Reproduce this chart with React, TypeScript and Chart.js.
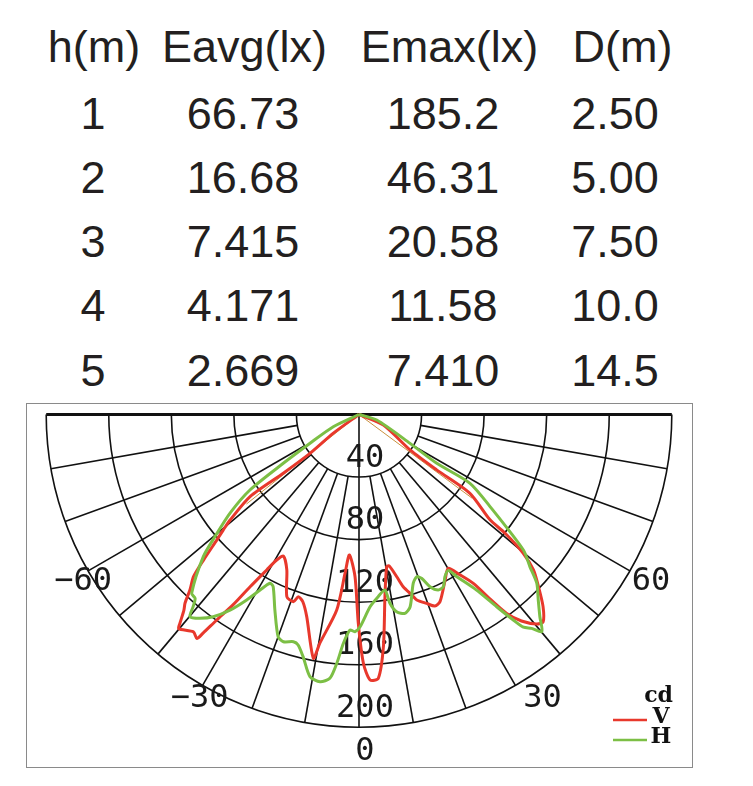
import React, { useEffect, useRef } from "react";
import { Chart, registerables } from "chart.js";

Chart.register(...registerables);

// ---------- table data ----------
const tableHeaders = ["h(m)", "Eavg(lx)", "Emax(lx)", "D(m)"];
const heightsM = ["1", "2", "3", "4", "5"];
const eavgLx = ["66.73", "16.68", "7.415", "4.171", "2.669"];
const emaxLx = ["185.2", "46.31", "20.58", "11.58", "7.410"];
const distM = ["2.50", "5.00", "7.50", "10.0", "14.5"];

// ---------- polar grid ----------
const ringValues = [40, 80, 120, 160, 200];
const spokeAngles = [-80, -70, -60, -50, -40, -30, -20, -10, 0, 10, 20, 30, 40, 50, 60, 70, 80];
const angleTickLabels = [-60, -30, 30, 60];

// ---------- V curve (red), angle in degrees from nadir, intensity in cd ----------
const vAngles = [
  -90, -54, -51.6, -52.2, -53, -50.7, -49.6, -48.6, -46.9, -45.6, -43.9, -42.7, -41.8, -40.6, -40.1,
  -37.3, -35.9, -35.5, -34.7, -33.5, -32.3, -30.7, -29.5, -28.1, -24.9, -21.6, -19.3, -18.4, -16.7,
  -14.5, -10.6, -9.7, -6.5, -5.0, -3.9, -1.4, -0.2, 1.0, 2.4, 4.2, 6.0, 8.1, 10.3, 11.3, 13.1, 14.4,
  16.3, 17.3, 19.7, 21.6, 23.4, 27.5, 30.1, 32.2, 34.1, 35.5, 36.6, 38.2, 40.3, 41.6, 43.8, 46.2,
  48.3, 49.8, 50.9, 51.2, 54.6, 54.5, 55.2, 66.6, 90,
];
const vCandela = [
  0, 20, 40, 61, 87, 106.5, 114, 121, 136, 148, 156, 164, 168, 176, 179,
  174.7, 176.8, 171.7, 159.8, 146, 130.3, 115.6, 106.9, 102.6, 109.6, 125.3, 126.8, 122.8, 125,
  133.5, 158.6, 148.2, 125.8, 101.7, 90, 103.8, 133.3, 158.9, 169.9, 169.1, 149.3, 117.7, 98.9, 98.8, 106.5, 113.7,
  120.2, 124.2, 128.3, 131.7, 130.4, 119.3, 113.7, 121.2, 130.4, 146, 158.4, 168, 175.6, 177.3, 170, 159,
  149.4, 137.5, 120.4, 107.5, 87, 61, 40, 17, 0,
];

// ---------- H curve (green) ----------
const hAngles = [
  -90, -64.6, -59.6, -57.2, -55.3, -52.6, -49.7, -47.6, -43.1, -41.7, -40.8, -39.9, -38, -35.8,
  -33.4, -31.2, -29.4, -27.8, -26.5, -23.3, -20, -18.4, -16.1, -14.8, -13, -10.6, -8.3, -6.3, -5.1,
  -3.9, -2.4, -1.1, 0.3, 3.3, 6, 8.4, 9.3, 10.8, 13, 14.9, 17.8, 19.6, 20.9, 22.4, 24.3, 26.1, 27.9,
  29.8, 31.1, 33.8, 35.6, 36.9, 37.7, 38.9, 40.1, 41.8, 44, 46.5, 48.3, 50.5, 54.9, 58.2, 57.9,
  60.5, 72.7, 90,
];
const hCandela = [
  0, 18.2, 36.3, 57.6, 84.8, 103.8, 120.8, 134.8, 156.6, 157.5, 162.3, 168.5, 165.3, 159.4,
  149.8, 138.6, 128.8, 122, 123, 136, 151.2, 153.1, 151.2, 152.4, 158.9, 170.5, 172.7, 169.7, 159.7,
  146.6, 137.9, 138.9, 135.7, 123.1, 117.1, 113.4, 122.3, 128.4, 130.5, 127.2, 113.4, 110.1, 112.1, 119.1, 123.1, 122.6, 117.4,
  115, 121.1, 135.1, 151.2, 164.3, 171.9, 175.7, 181.5, 173.5, 165, 156.7, 146.4, 136.2, 102.4, 83.5, 58.7,
  37.5, 11.9, 0,
];

// thin connecting rays
const rayLeftAngles = [-51.5, -51.5];
const rayLeftCandela = [0, 92];
const rayRightAngles = [53.5, 53.5];
const rayRightCandela = [0, 90];

const RED = "#e8382c";
const GREEN = "#7cbf45";
const RAY = "#c9913e";

const CANVAS_W = 662;
const CANVAS_H = 360;
const CENTER_X = 331;
const CENTER_Y = 9.5;
const PX_PER_CD = 1.564;

function toXY(angles: number[], values: number[]) {
  return angles.map((a, i) => {
    const t = (a * Math.PI) / 180;
    return { x: values[i] * Math.sin(t), y: -values[i] * Math.cos(t) };
  });
}

const polarGridPlugin = {
  id: "polarGrid",
  beforeDatasetsDraw(chart: any) {
    const { ctx } = chart;
    const xs = chart.scales.x;
    const ys = chart.scales.y;
    const cx = xs.getPixelForValue(0);
    const cy = ys.getPixelForValue(0);
    const rpx = (v: number) => xs.getPixelForValue(v) - cx;
    const maxR = rpx(ringValues[ringValues.length - 1]);
    const pt = (deg: number, r: number) => {
      const t = (deg * Math.PI) / 180;
      return [cx + r * Math.sin(t), cy + r * Math.cos(t)];
    };
    ctx.save();
    ctx.strokeStyle = "#111111";
    ctx.lineWidth = 1.6;
    // rings
    ringValues.forEach((v) => {
      ctx.beginPath();
      ctx.arc(cx, cy, rpx(v), 0, Math.PI);
      ctx.stroke();
    });
    // spokes
    spokeAngles.forEach((a) => {
      const r0 = a === 0 ? 0 : rpx(ringValues[0]);
      const [x0, y0] = pt(a, r0);
      const [x1, y1] = pt(a, maxR);
      ctx.beginPath();
      ctx.moveTo(x0, y0);
      ctx.lineTo(x1, y1);
      ctx.stroke();
    });
    // horizontal 90° line
    ctx.lineWidth = 3;
    ctx.beginPath();
    ctx.moveTo(cx - maxR, cy);
    ctx.lineTo(cx + maxR, cy);
    ctx.stroke();

    // ring labels
    ctx.fillStyle = "#1a1a1a";
    ctx.font = '32px "DejaVu Sans Mono"';
    ctx.textAlign = "center";
    ctx.textBaseline = "alphabetic";
    ringValues.forEach((v) => {
      ctx.fillText(String(v), cx + 6, cy + rpx(v) - 10.5);
    });
    ctx.fillText("0", cx + 6, cy + maxR + 33);

    // angle labels
    const offs: Record<string, [number, number]> = {
      "-60": [-5, 19],
      "-30": [-3, 22],
      "30": [27, 22],
      "60": [21, 19],
    };
    angleTickLabels.forEach((a) => {
      const [px, py] = pt(a, maxR);
      const o = offs[String(a)];
      const txt = a < 0 ? "\u2212" + Math.abs(a) : String(a);
      ctx.fillText(txt, px + o[0], py + o[1]);
    });

    // legend
    const W = chart.width;
    ctx.font = 'bold 22px "DejaVu Serif"';
    ctx.textAlign = "right";
    ctx.fillStyle = "#111";
    ctx.fillText("cd", W - 17, 297);
    const legendItems = chart.data.datasets.filter((d: any) => d.label);
    legendItems.forEach((d: any, i: number) => {
      const by = 318 + i * 20;
      ctx.textAlign = "center";
      ctx.fillStyle = "#111";
      ctx.fillText(d.label, W - 29, by);
      ctx.strokeStyle = d.borderColor;
      ctx.lineWidth = 2.4;
      ctx.beginPath();
      ctx.moveTo(W - 77, by - 3);
      ctx.lineTo(W - 43, by - 3);
      ctx.stroke();
    });
    ctx.restore();
  },
};

export default function App() {
  const canvasRef = useRef<HTMLCanvasElement | null>(null);

  useEffect(() => {
    if (!canvasRef.current) return;
    const xMin = -CENTER_X / PX_PER_CD;
    const xMax = (CANVAS_W - CENTER_X) / PX_PER_CD;
    const yMax = CENTER_Y / PX_PER_CD;
    const yMin = -(CANVAS_H - CENTER_Y) / PX_PER_CD;
    const chart = new Chart(canvasRef.current, {
      type: "scatter",
      data: {
        datasets: [
          {
            label: "V",
            data: toXY(vAngles, vCandela),
            showLine: true,
            borderColor: RED,
            backgroundColor: RED,
            borderWidth: 3,
            pointRadius: 0,
            tension: 0.25,
            order: 2,
            borderJoinStyle: "round",
          },
          {
            label: "H",
            data: toXY(hAngles, hCandela),
            showLine: true,
            borderColor: GREEN,
            backgroundColor: GREEN,
            borderWidth: 3,
            pointRadius: 0,
            tension: 0.25,
            order: 1,
            borderJoinStyle: "round",
          },
          {
            label: "",
            data: toXY(rayLeftAngles, rayLeftCandela),
            showLine: true,
            borderColor: RAY,
            borderWidth: 1,
            pointRadius: 0,
            order: 3,
          },
          {
            label: "",
            data: toXY(rayRightAngles, rayRightCandela),
            showLine: true,
            borderColor: RAY,
            borderWidth: 1,
            pointRadius: 0,
            order: 3,
          },
        ],
      } as any,
      options: {
        animation: false,
        responsive: false,
        maintainAspectRatio: false,
        devicePixelRatio: 1,
        layout: { padding: 0 },
        scales: {
          x: { type: "linear", display: false, min: xMin, max: xMax },
          y: { type: "linear", display: false, min: yMin, max: yMax },
        },
        plugins: {
          legend: { display: false },
          tooltip: { enabled: false },
        },
        events: [],
      } as any,
      plugins: [polarGridPlugin],
    });
    return () => chart.destroy();
  }, []);

  const textStyle: React.CSSProperties = {
    position: "absolute",
    width: 220,
    textAlign: "center",
    fontFamily: '"Liberation Sans", Arial, sans-serif',
    fontSize: 45,
    lineHeight: "45px",
    color: "#231f20",
    whiteSpace: "nowrap",
  };
  const headerCenters = [94, 244.5, 449.5, 622.5];
  const valueCenters = [93, 243, 443, 615];
  const columns = [heightsM, eavgLx, emaxLx, distM];
  const headerBaseline = 62.5;
  const rowBaselines = [129.5, 193.5, 257.5, 321.5, 386];
  const baselineOffset = 38.1;

  return (
    <div
      style={{
        position: "absolute",
        left: 0,
        top: 0,
        width: 753,
        height: 786,
        background: "#ffffff",
        overflow: "hidden",
      }}
    >
      {tableHeaders.map((h, i) => (
        <div
          key={"h" + i}
          style={{ ...textStyle, left: headerCenters[i] - 110, top: headerBaseline - baselineOffset }}
        >
          {h}
        </div>
      ))}
      {columns.map((col, ci) =>
        col.map((v, ri) => (
          <div
            key={"c" + ci + "r" + ri}
            style={{ ...textStyle, left: valueCenters[ci] - 110, top: rowBaselines[ri] - baselineOffset }}
          >
            {v}
          </div>
        ))
      )}
      <div
        style={{
          position: "absolute",
          left: 26,
          top: 403,
          width: 667,
          height: 365,
          border: "1.5px solid #8a8a8a",
          boxSizing: "border-box",
        }}
      />
      <canvas
        ref={canvasRef}
        width={CANVAS_W}
        height={CANVAS_H}
        style={{ position: "absolute", left: 28, top: 405, width: CANVAS_W, height: CANVAS_H }}
      />
    </div>
  );
}
